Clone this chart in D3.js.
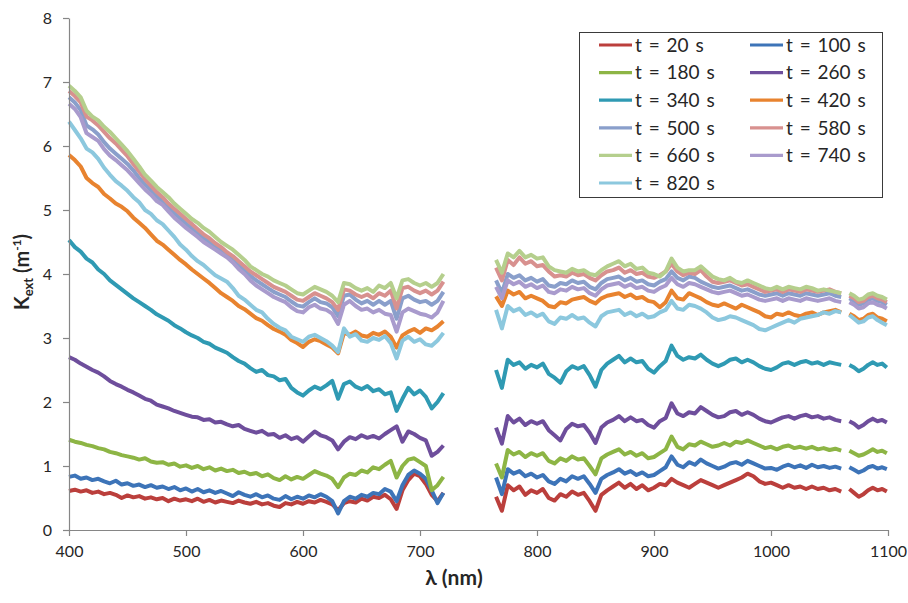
<!DOCTYPE html>
<html>
<head>
<meta charset="utf-8">
<script src="https://cdn.jsdelivr.net/npm/d3@7"></script>
<style>
  html, body { margin: 0; padding: 0; background: #fff; }
  svg { display: block; }
</style>
</head>
<body>
<div id="chart"></div>
<script>
// ---------------- DATA ----------------
// wavelength sampling of the three measured spectral segments: [start, stop, step] (nm)
const wavelengthSegments = [[400, 720, 5], [765, 1060, 5], [1067, 1099, 4]];
const seriesLabels = ["t = 20 s", "t = 100 s", "t = 180 s", "t = 260 s", "t = 340 s", "t = 420 s",
                      "t = 500 s", "t = 580 s", "t = 660 s", "t = 740 s", "t = 820 s"];
const xTicks = [400, 500, 600, 700, 800, 900, 1000, 1100];
const yTicks = [0, 1, 2, 3, 4, 5, 6, 7, 8];

const k20 = [
0.61,0.63,0.60,0.62,0.58,0.60,0.56,0.58,0.55,0.50,0.54,0.51,0.53,0.49,0.51,0.48,0.50,0.45,0.49,0.46,
0.48,0.45,0.49,0.44,0.47,0.43,0.46,0.44,0.42,0.46,0.43,0.41,0.44,0.40,0.42,0.38,0.36,0.42,0.40,0.44,
0.41,0.45,0.43,0.47,0.44,0.40,0.31,0.42,0.45,0.43,0.49,0.46,0.52,0.50,0.55,0.48,0.33,0.62,0.78,0.88,
0.84,0.72,0.55,0.45,0.58,
0.52,0.30,0.70,0.62,0.68,0.55,0.62,0.58,0.64,0.50,0.46,0.56,0.52,0.60,0.55,0.58,0.45,0.30,0.55,0.62,
0.68,0.74,0.66,0.72,0.64,0.70,0.62,0.66,0.72,0.70,0.80,0.74,0.70,0.66,0.72,0.78,0.74,0.70,0.66,0.70,
0.74,0.78,0.82,0.88,0.84,0.76,0.72,0.74,0.70,0.66,0.70,0.66,0.68,0.64,0.68,0.64,0.66,0.62,0.64,0.60,
0.64,0.58,0.52,0.56,0.62,0.66,0.62,0.64,0.60];
const k100 = [
0.83,0.85,0.80,0.82,0.78,0.80,0.76,0.73,0.77,0.71,0.73,0.69,0.71,0.67,0.70,0.66,0.68,0.64,0.67,0.62,
0.65,0.60,0.64,0.59,0.62,0.58,0.61,0.57,0.53,0.59,0.55,0.52,0.56,0.51,0.54,0.49,0.47,0.53,0.48,0.52,
0.49,0.54,0.51,0.56,0.52,0.45,0.26,0.45,0.52,0.49,0.55,0.52,0.58,0.56,0.64,0.60,0.45,0.70,0.86,0.93,
0.88,0.80,0.62,0.42,0.58,
0.82,0.56,0.95,0.88,0.92,0.84,0.88,0.82,0.86,0.76,0.72,0.80,0.76,0.84,0.80,0.84,0.72,0.58,0.80,0.86,
0.90,0.95,0.88,0.92,0.86,0.90,0.84,0.86,0.92,0.98,1.15,1.02,0.98,1.06,1.02,1.10,1.04,1.00,0.96,0.99,
1.04,1.06,1.02,1.08,1.04,1.00,0.96,0.97,0.94,0.99,1.02,0.98,1.01,0.97,1.02,0.98,1.00,0.97,0.99,0.96,
0.98,0.94,0.90,0.93,0.98,1.00,0.96,0.98,0.95];
const k180 = [
1.41,1.38,1.36,1.33,1.31,1.28,1.26,1.22,1.20,1.17,1.15,1.13,1.10,1.12,1.07,1.05,1.06,1.02,1.04,0.99,
1.01,0.97,1.00,0.95,0.98,0.93,0.96,0.92,0.94,0.89,0.91,0.87,0.89,0.84,0.87,0.81,0.78,0.84,0.79,0.83,
0.80,0.86,0.92,0.88,0.85,0.80,0.67,0.82,0.88,0.86,0.93,0.90,0.98,0.95,1.02,1.08,0.82,1.00,1.10,1.12,
1.06,1.00,0.62,0.70,0.83,
1.04,0.82,1.25,1.18,1.22,1.14,1.20,1.16,1.20,1.08,1.04,1.12,1.08,1.15,1.10,1.12,1.00,0.87,1.12,1.18,
1.22,1.26,1.18,1.22,1.16,1.20,1.12,1.14,1.20,1.26,1.46,1.30,1.26,1.34,1.32,1.38,1.34,1.30,1.32,1.36,
1.32,1.38,1.36,1.40,1.36,1.32,1.28,1.30,1.26,1.30,1.32,1.28,1.30,1.27,1.30,1.26,1.28,1.25,1.27,1.24,
1.24,1.20,1.16,1.18,1.22,1.26,1.22,1.24,1.20];
const k260 = [
2.70,2.66,2.60,2.55,2.50,2.46,2.40,2.33,2.28,2.24,2.19,2.15,2.10,2.05,2.02,1.96,1.93,1.90,1.86,1.83,
1.80,1.77,1.76,1.72,1.73,1.68,1.69,1.65,1.62,1.64,1.58,1.55,1.52,1.55,1.49,1.50,1.44,1.48,1.42,1.45,
1.38,1.46,1.54,1.48,1.45,1.40,1.26,1.38,1.45,1.42,1.48,1.44,1.47,1.43,1.50,1.56,1.62,1.38,1.54,1.50,
1.44,1.40,1.16,1.22,1.32,
1.60,1.35,1.78,1.68,1.74,1.64,1.70,1.66,1.70,1.56,1.48,1.40,1.58,1.66,1.62,1.64,1.52,1.36,1.60,1.68,
1.72,1.78,1.70,1.76,1.70,1.72,1.64,1.60,1.70,1.75,1.98,1.82,1.78,1.84,1.82,1.92,1.86,1.80,1.76,1.78,
1.84,1.86,1.80,1.84,1.80,1.74,1.70,1.68,1.72,1.76,1.78,1.74,1.78,1.80,1.76,1.78,1.74,1.76,1.72,1.70,
1.70,1.66,1.60,1.64,1.70,1.74,1.70,1.72,1.68];
const k340 = [
4.53,4.42,4.35,4.24,4.18,4.07,4.00,3.90,3.83,3.76,3.69,3.62,3.56,3.50,3.44,3.37,3.32,3.27,3.20,3.15,
3.09,3.04,3.00,2.94,2.91,2.85,2.81,2.77,2.70,2.64,2.60,2.53,2.47,2.50,2.42,2.40,2.34,2.36,2.22,2.15,
2.10,2.18,2.24,2.20,2.26,2.33,2.05,2.28,2.32,2.24,2.20,2.25,2.17,2.20,2.12,2.15,1.86,2.05,2.22,2.12,
2.18,2.08,1.90,2.00,2.14,
2.50,2.22,2.66,2.58,2.62,2.52,2.58,2.54,2.60,2.44,2.38,2.30,2.48,2.56,2.52,2.56,2.42,2.24,2.50,2.60,
2.66,2.72,2.62,2.68,2.62,2.64,2.52,2.46,2.56,2.64,2.88,2.72,2.66,2.70,2.68,2.74,2.66,2.60,2.56,2.60,
2.66,2.68,2.62,2.66,2.62,2.56,2.52,2.50,2.54,2.60,2.62,2.58,2.62,2.64,2.60,2.62,2.58,2.62,2.60,2.58,
2.58,2.54,2.48,2.52,2.58,2.62,2.58,2.60,2.54];
const k420 = [
5.86,5.78,5.68,5.50,5.42,5.36,5.25,5.18,5.10,5.05,4.98,4.88,4.80,4.72,4.62,4.52,4.46,4.38,4.30,4.22,
4.15,4.07,4.00,3.93,3.86,3.78,3.70,3.64,3.58,3.50,3.45,3.38,3.31,3.27,3.20,3.14,3.10,3.05,2.97,2.92,
2.86,2.94,2.98,2.95,2.90,2.85,2.76,3.08,3.05,3.10,3.04,3.02,3.08,3.05,3.10,3.02,2.85,3.04,3.10,3.14,
3.08,3.15,3.12,3.18,3.26,
3.65,3.50,3.74,3.68,3.72,3.62,3.66,3.62,3.58,3.50,3.48,3.56,3.54,3.60,3.62,3.64,3.58,3.54,3.62,3.66,
3.68,3.70,3.64,3.68,3.62,3.64,3.58,3.56,3.48,3.56,3.74,3.62,3.60,3.70,3.66,3.62,3.56,3.52,3.50,3.54,
3.50,3.46,3.52,3.48,3.44,3.40,3.34,3.32,3.38,3.36,3.40,3.36,3.34,3.38,3.40,3.36,3.40,3.42,3.44,3.40,
3.38,3.34,3.28,3.30,3.36,3.38,3.32,3.30,3.26];
const k500 = [
6.76,6.68,6.56,6.32,6.26,6.18,6.06,5.96,5.88,5.80,5.72,5.62,5.50,5.40,5.31,5.21,5.14,5.04,4.95,4.87,
4.79,4.71,4.64,4.56,4.50,4.43,4.37,4.30,4.23,4.14,4.06,3.97,3.90,3.84,3.78,3.72,3.68,3.64,3.57,3.51,
3.49,3.56,3.62,3.56,3.54,3.48,3.34,3.66,3.68,3.60,3.54,3.58,3.52,3.58,3.52,3.58,3.30,3.62,3.66,3.60,
3.56,3.58,3.52,3.58,3.72,
3.90,3.70,4.00,3.94,3.98,3.90,3.94,3.88,3.92,3.82,3.80,3.86,3.84,3.90,3.86,3.88,3.80,3.76,3.86,3.92,
3.94,3.96,3.90,3.94,3.88,3.90,3.84,3.82,3.88,3.92,4.04,3.94,3.90,3.96,3.94,3.88,3.84,3.80,3.78,3.80,
3.82,3.78,3.74,3.76,3.72,3.68,3.66,3.68,3.70,3.66,3.70,3.68,3.66,3.70,3.68,3.66,3.68,3.70,3.66,3.64,
3.62,3.58,3.52,3.54,3.60,3.62,3.58,3.56,3.52];
const k580 = [
6.86,6.78,6.68,6.46,6.40,6.32,6.22,6.12,6.04,5.94,5.84,5.72,5.60,5.48,5.38,5.28,5.20,5.10,5.02,4.94,
4.86,4.78,4.70,4.62,4.56,4.48,4.42,4.34,4.28,4.20,4.12,4.04,3.98,3.92,3.86,3.80,3.76,3.72,3.66,3.60,
3.58,3.64,3.70,3.66,3.62,3.56,3.44,3.76,3.74,3.68,3.64,3.68,3.62,3.70,3.66,3.74,3.46,3.78,3.80,3.74,
3.70,3.74,3.68,3.74,3.88,
4.10,3.90,4.22,4.14,4.26,4.16,4.20,4.12,4.14,4.04,3.96,3.98,3.96,4.02,3.98,4.00,3.94,3.90,3.98,4.04,
4.06,4.10,4.02,4.06,4.00,4.02,3.96,3.94,3.98,4.04,4.16,4.04,3.98,4.02,4.00,4.06,3.96,3.88,3.86,3.88,
3.90,3.86,3.82,3.84,3.80,3.76,3.72,3.74,3.76,3.72,3.76,3.74,3.72,3.76,3.74,3.72,3.74,3.76,3.72,3.70,
3.66,3.62,3.56,3.58,3.64,3.66,3.62,3.60,3.56];
const k660 = [
6.94,6.86,6.76,6.55,6.46,6.40,6.30,6.22,6.12,6.02,5.92,5.80,5.68,5.55,5.46,5.36,5.28,5.20,5.10,5.02,
4.94,4.86,4.80,4.72,4.66,4.58,4.50,4.44,4.38,4.30,4.22,4.12,4.06,4.00,3.96,3.90,3.86,3.82,3.76,3.70,
3.68,3.74,3.80,3.76,3.72,3.66,3.56,3.86,3.84,3.78,3.74,3.78,3.72,3.82,3.78,3.86,3.62,3.90,3.92,3.86,
3.82,3.86,3.80,3.86,4.00,
4.22,4.02,4.32,4.26,4.36,4.26,4.30,4.24,4.26,4.12,4.06,4.04,4.02,4.08,4.04,4.06,4.00,3.98,4.06,4.12,
4.16,4.20,4.12,4.16,4.08,4.10,4.02,4.00,3.96,4.04,4.24,4.10,4.04,4.06,4.06,4.12,4.04,3.96,3.92,3.90,
3.94,3.88,3.86,3.90,3.86,3.82,3.78,3.76,3.80,3.76,3.80,3.78,3.76,3.80,3.78,3.74,3.76,3.74,3.72,3.70,
3.70,3.66,3.60,3.62,3.68,3.70,3.66,3.64,3.60];
const k740 = [
6.66,6.58,6.45,6.20,6.14,6.08,5.95,5.85,5.78,5.70,5.62,5.52,5.42,5.32,5.24,5.14,5.08,4.98,4.88,4.80,
4.72,4.65,4.58,4.50,4.44,4.38,4.32,4.26,4.18,4.08,4.00,3.90,3.82,3.76,3.70,3.64,3.60,3.56,3.48,3.42,
3.40,3.48,3.52,3.46,3.44,3.38,3.22,3.52,3.58,3.50,3.44,3.46,3.40,3.44,3.38,3.36,3.10,3.40,3.46,3.42,
3.38,3.36,3.32,3.40,3.58,
3.80,3.62,3.90,3.84,3.88,3.80,3.84,3.78,3.82,3.72,3.70,3.76,3.74,3.80,3.76,3.78,3.70,3.66,3.76,3.82,
3.84,3.86,3.80,3.84,3.78,3.80,3.74,3.72,3.78,3.82,3.94,3.84,3.80,3.86,3.84,3.80,3.76,3.72,3.70,3.72,
3.74,3.70,3.66,3.68,3.64,3.60,3.58,3.60,3.62,3.58,3.62,3.60,3.58,3.62,3.60,3.58,3.60,3.62,3.58,3.56,
3.56,3.52,3.46,3.48,3.54,3.56,3.52,3.50,3.46];
const k820 = [
6.38,6.25,6.12,5.96,5.90,5.80,5.66,5.55,5.45,5.38,5.30,5.20,5.12,5.00,4.94,4.84,4.78,4.68,4.58,4.46,
4.38,4.28,4.20,4.14,4.06,3.98,3.93,3.88,3.78,3.66,3.60,3.52,3.44,3.40,3.30,3.22,3.16,3.12,3.02,2.98,
2.94,3.02,3.05,3.00,2.95,2.88,2.78,3.15,3.02,3.06,2.96,2.94,3.00,2.97,3.03,2.92,2.68,2.96,3.02,2.94,
2.98,2.90,2.88,2.96,3.08,
3.44,3.15,3.50,3.42,3.46,3.36,3.40,3.34,3.38,3.26,3.22,3.32,3.30,3.36,3.30,3.32,3.24,3.18,3.34,3.40,
3.42,3.44,3.36,3.40,3.34,3.38,3.32,3.34,3.40,3.44,3.58,3.46,3.44,3.52,3.50,3.46,3.40,3.32,3.28,3.30,
3.34,3.32,3.28,3.24,3.20,3.14,3.12,3.16,3.20,3.24,3.28,3.24,3.30,3.32,3.34,3.36,3.40,3.38,3.42,3.40,
3.36,3.30,3.24,3.26,3.32,3.34,3.28,3.24,3.20];

const seriesValues = [k20, k100, k180, k260, k340, k420, k500, k580, k660, k740, k820];
const seriesColors = ["#BB3F3C", "#3D74B8", "#8DB545", "#6E4E9C", "#2F9AB3", "#E8832F",
                      "#8A9FCB", "#D8918F", "#B5CF8D", "#A99BCD", "#8CC8DE"];

// ---------------- LAYOUT ----------------
const W = 908, H = 603;
const plot = {left: 69, right: 888, top: 18, bottom: 530};
const axisColor = "#868686";
const textColor = "#262626";
const font = "Lato, 'Open Sans', 'DejaVu Sans', sans-serif";

const svg = d3.select("#chart").append("svg")
  .attr("width", W).attr("height", H)
  .attr("viewBox", `0 0 ${W} ${H}`);

const x = d3.scaleLinear().domain([400, 1100]).range([plot.left, plot.right]);
const y = d3.scaleLinear().domain([0, 8]).range([plot.bottom, plot.top]);

// wavelengths
const wavelengths = wavelengthSegments.map(([a, b, s]) => d3.range(a, b + 0.001, s));

// ---------------- LINES ----------------
const line = d3.line().x(d => x(d[0])).y(d => y(d[1])).curve(d3.curveLinear);
const linesG = svg.append("g");
seriesValues.forEach((vals, si) => {
  let offset = 0;
  wavelengths.forEach(seg => {
    const pts = seg.map((w, i) => [w, vals[offset + i]]);
    offset += seg.length;
    linesG.append("path")
      .attr("d", line(pts))
      .attr("fill", "none")
      .attr("stroke", seriesColors[si])
      .attr("stroke-width", 4)
      .attr("stroke-linejoin", "round")
      .attr("stroke-linecap", "butt");
  });
});

// ---------------- AXES ----------------
const xAxis = d3.axisBottom(x).tickValues(xTicks).tickSize(6).tickSizeOuter(0).tickPadding(10).tickFormat(d3.format("d"));
const yAxis = d3.axisLeft(y).tickValues(yTicks).tickSize(6).tickSizeOuter(0).tickPadding(11).tickFormat(d3.format("d"));

const gx = svg.append("g").attr("transform", `translate(0,${plot.bottom})`).call(xAxis);
const gy = svg.append("g").attr("transform", `translate(${plot.left},0)`).call(yAxis);
[gx, gy].forEach(g => {
  g.select(".domain").attr("stroke", axisColor).attr("stroke-width", 1.2);
  g.selectAll(".tick line").attr("stroke", axisColor).attr("stroke-width", 1.2);
  g.selectAll(".tick text").attr("fill", textColor).style("font-family", font).style("font-size", "16px");
});

// axis titles
svg.append("text")
  .attr("x", 454).attr("y", 585)
  .attr("text-anchor", "middle")
  .attr("fill", textColor)
  .style("font-family", font).style("font-size", "21px").style("font-weight", "bold")
  .text("λ (nm)");

const yt = svg.append("text")
  .attr("transform", "translate(29,272) rotate(-90)")
  .attr("text-anchor", "middle")
  .attr("fill", textColor)
  .style("font-family", font).style("font-weight", "bold").style("font-size", "20px");
yt.append("tspan").text("K");
yt.append("tspan").attr("dy", 4).style("font-size", "13px").text("ext");
yt.append("tspan").attr("dy", -4).text(" (m");
yt.append("tspan").attr("dy", -8).style("font-size", "12px").text("-1");
yt.append("tspan").attr("dy", 8).text(")");

// ---------------- LEGEND ----------------
const legend = svg.append("g");
legend.append("rect")
  .attr("x", 579.5).attr("y", 32.5).attr("width", 303).attr("height", 165)
  .attr("fill", "#fff").attr("stroke", "#3a3a3a").attr("stroke-width", 1);
const colX = [599, 750];
const rowY0 = 45, rowDy = 27.6;
seriesLabels.forEach((lab, i) => {
  const col = i % 2, row = Math.floor(i / 2);
  const gy0 = rowY0 + row * rowDy;
  legend.append("line")
    .attr("x1", colX[col]).attr("x2", colX[col] + 33)
    .attr("y1", gy0).attr("y2", gy0)
    .attr("stroke", seriesColors[i]).attr("stroke-width", 3.2);
  legend.append("text")
    .attr("x", colX[col] + 36).attr("y", gy0)
    .attr("dy", "0.36em")
    .attr("fill", textColor)
    .style("font-family", font).style("font-size", "19px").style("word-spacing", "2px")
    .text(lab);
});
</script>
</body>
</html>
